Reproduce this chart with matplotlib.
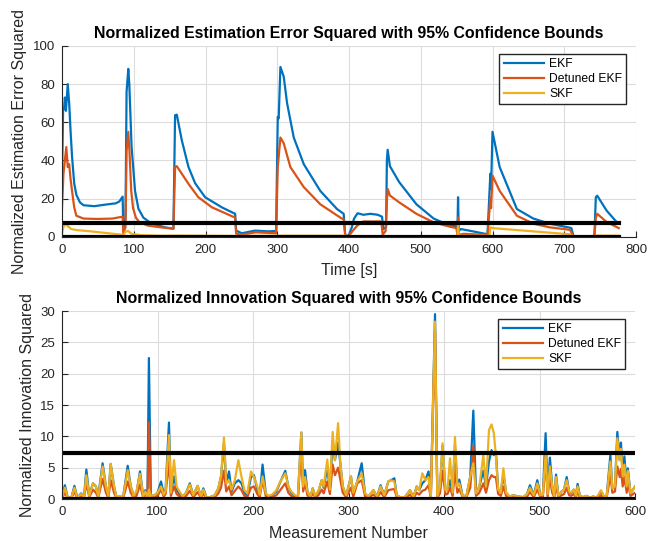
import numpy as np
import matplotlib
matplotlib.use('Agg')
import matplotlib.pyplot as plt

# ---- NEES (top) : key points (time [s], value) ----
nees_ekf_t = [0, 1.5, 3, 4, 5.5, 8, 10, 12, 14, 17, 20, 25, 30, 45, 60, 75, 80, 84.5,
              85.5, 88.5, 90, 92.4, 93.8, 97, 101.8, 106.5, 113.4, 125, 143.7, 155.3,
              157.6, 160, 167, 176.3, 185.6, 199.5, 222.7, 241.3, 242.7, 250.6, 269,
              287.7, 298.4, 300.7, 302, 304.4, 309, 313.7, 323, 337, 360, 383.3, 392.6,
              394.9, 400, 404, 407, 412, 420, 430, 440, 446, 448, 451.7, 452.8, 453.9,
              457, 470, 494, 518, 541, 550, 551, 552, 553, 556, 570, 590, 593, 597,
              598, 600, 610, 634, 657, 680, 708, 710, 713, 742, 744, 746, 759, 773, 776]
nees_ekf = [30, 66, 68, 73, 66, 80, 70, 55, 42, 28, 22, 18, 16.5, 16, 16.8, 17.5, 18.5, 21,
            3, 10, 76, 88, 80, 47, 24, 14.7, 10, 6.8, 4.9, 4.2,
            63.7, 64, 50.5, 36.5, 28, 20.7, 15.4, 12, 3.2, 1.8, 3.2,
            2.8, 3, 62.8, 62, 89, 84, 70, 52, 38, 24, 14.5, 12,
            0, 1, 5, 9.5, 12.3, 11.5, 12, 11.5, 10.5, 4, 5, 40, 45.6,
            37, 28.6, 17, 9.5, 5.8, 5.5, 1, 20.7, 3, 4, 3, 1.5, 1, 33,
            25, 55, 36.5, 14.5, 9.5, 6.8, 4.7, 4.5, 0, 0, 20.7, 21.5, 13.7, 7.7, 7]

nees_det_t = [0, 2, 4, 6, 8, 10, 12, 14, 17, 20, 30, 50, 70, 84.5, 85.5, 88.5, 90, 92.4,
              94, 96.5, 99, 103, 108, 120, 140, 155.3, 157.6, 160, 167, 176.3, 190, 209,
              241.3, 242.7, 250, 270, 298.4, 300.7, 304.4, 309, 318.3, 337, 360, 388,
              392.6, 394.9, 400, 405, 412, 420, 445, 447, 451, 453, 454, 457, 470, 494,
              518, 541, 550, 551, 552, 553, 560, 590, 593, 597, 598, 600, 610, 634, 657,
              680, 708, 713, 742, 744, 746, 759, 776]
nees_det = [15, 33, 40, 47, 36.5, 38, 30, 24, 15.4, 11, 9.5, 9.3, 9.5, 10.5, 1.6, 5, 45, 55,
            45, 24, 15, 10, 7.5, 5.8, 4.8, 4.2, 36.5, 37, 33, 27.7, 20.7, 15.4,
            10, 1.6, 1.0, 2.3, 1.8, 36.5, 52, 49, 36.5, 26, 17, 10,
            9, 0, 0.5, 3, 6, 8, 8, 1, 3, 20, 25, 21.6, 18, 12,
            7.5, 5.2, 4.5, 0.5, 10, 1, 1.5, 1, 0.5, 20, 15, 32, 24, 11, 6.8,
            4.9, 3.6, 0, 0, 10, 12, 7.7, 4.5]

nees_skf_t = [0, 2, 5, 8, 13, 20, 40, 60, 84, 85.5, 88, 92, 97, 110, 140, 160, 240, 300,
              395, 396, 400, 550, 551, 552, 553, 596, 597, 600, 650, 700, 708, 712, 743,
              745, 776]
nees_skf = [2, 5, 7, 5.5, 4, 3.5, 2.8, 2, 1, 0.3, 2.5, 3, 1.5, 0.8, 0.5, 0.6, 0.4, 0.5,
            0.5, 0, 0.3, 0.3, 0, 6, 0.5, 0.5, 5, 4.5, 3, 1.5, 1.3, 0, 0,
            0.6, 0.5]

nees_bounds = [0.0506, 7.3778]

nis_m = [0, 3, 6, 10, 13, 16, 20, 23, 25.5, 28.5, 32.5, 35.5, 38, 42.5, 46, 48.5, 51,
         54.5, 57, 60, 64, 68.8, 72, 75, 78, 81.7, 85, 87.3, 89.5, 91, 93, 97, 100,
         103.7, 106.5, 108.5, 112, 114, 117.3, 120, 123, 126.5, 130, 133.8, 137.5, 142,
         145.5, 148, 151.5, 155, 160, 163.7, 166.5, 169.6, 172, 174.9, 177.5, 181, 184.7,
         188, 191, 194, 197.9, 201, 204.5, 207, 210, 213.5, 216, 220, 224.5, 228, 233.8,
         237, 240, 244, 247, 250.6, 252.5, 254.5, 257, 260, 262.5, 265, 268.5, 272, 274,
         277.8, 280.5, 283.4, 285.8, 289.1, 291.5, 294, 297.5, 300, 302.6, 305, 309.2,
         313.8, 317.4, 320.9, 326, 330, 333.6, 337.5, 341.7, 344.5, 348, 350.5, 354, 359,
         364.4, 368, 371.4, 374, 377.3, 380.5, 383.8, 386.2, 390.6, 393, 395.8, 398.5,
         401.5, 403.7, 406.3, 409, 411.5, 414, 416, 419.5, 423.5, 427.5, 430.7, 433.5,
         437, 441.2, 444, 447.1, 449.8, 452.2, 454.3, 456.7, 459.5, 462.2, 465, 468.5,
         472.6, 477.9, 483.1, 487, 490, 494, 497.7, 501, 503.5, 506.4, 508.5, 510.9,
         513.3, 515.4, 517.3, 519.8, 523.2, 525.7, 528.5, 531, 533, 535.8, 538, 539.9,
         542.3, 545.8, 549.3, 552.8, 556.3, 559.8, 564.4, 567.8, 570.3, 574.2, 576.3, 579,
         581.5, 584, 585.3, 587.1, 588.9, 591.3, 592.5, 595.3, 600]
nis_ekf = [0.2, 2.2, 0.2, 0.3, 2.1, 0.2, 0.9, 0.3, 4.7, 0.6, 2.5, 2.0, 0.5, 5.7, 2.0, 0.5, 5.6,
           2.0, 0.3, 0.4, 0.3, 5.3, 2.0, 0.6, 1.0, 4.4, 0.5, 1.4, 0.3, 22.5, 0.5, 0.6, 1.0,
           2.8, 0.8, 1.5, 12.2, 1.0, 3.6, 1.5, 0.8, 0.4, 1.0, 2.5, 0.6, 2.1,
           0.4, 1.7, 0.2, 0.3, 0.6, 1.7, 3.6, 8.9, 2.5, 4.4, 1.2, 2.5, 3.0,
           2.5, 1.0, 0.6, 3.5, 3.8, 1.5, 0.5, 5.5, 0.8, 0.4, 0.6, 1.2, 2.5, 4.5,
           2.0, 1.0, 0.5, 0.3, 10.6, 2.0, 4.6, 1.2, 0.3, 1.7, 0.5, 1.2, 3.0, 1.8,
           5.0, 1.5, 9.1, 6.2, 9.0, 5.5, 2.0, 0.5, 2.0, 3.6, 0.8, 2.8,
           5.7, 0.8, 0.4, 1.4, 0.4, 2.2, 0.6, 2.8, 3.0, 3.3, 0.6, 0.3, 0.3,
           1.4, 0.3, 2.0, 1.4, 2.5, 3.0, 4.4, 0.4, 29.5, 0.4, 1.8, 8.5,
           1.4, 1.5, 3.0, 0.9, 8.5, 2.0, 3.1, 0.5, 0.5, 3.6, 14.1, 0.9,
           2.0, 4.5, 2.0, 6.0, 7.8, 7.0, 7.6, 1.5, 1.0, 4.0, 1.0, 0.4,
           0.6, 0.4, 0.3, 0.8, 2.2, 0.6, 3.0, 0.6, 0.6, 10.5, 0.8, 6.6,
           2.0, 0.5, 3.9, 0.5, 1.2, 1.5, 3.5, 1.2, 0.9, 1.5, 0.5, 2.4,
           0.5, 0.3, 0.5, 0.2, 0.4, 0.2, 1.2, 0.3, 0.4, 7.0, 1.7, 2.0,
           10.7, 6.2, 9.0, 3.6, 6.8, 2.0, 4.9, 0.9, 2.0]
nis_det = [0.1, 1.0, 0.1, 0.2, 1.2, 0.1, 0.5, 0.2, 2.5, 0.3, 1.5, 1.0, 0.2, 3.2, 1.0, 0.2, 3.0,
           1.0, 0.1, 0.2, 0.1, 2.8, 1.0, 0.2, 0.5, 2.3, 0.2, 0.8, 0.2, 12.2, 0.3, 0.3, 0.5,
           1.5, 0.4, 0.8, 6.0, 0.5, 2.0, 0.8, 0.4, 0.2, 0.5, 1.3, 0.3, 1.1,
           0.2, 0.9, 0.1, 0.1, 0.3, 0.9, 1.8, 4.5, 1.2, 2.0, 0.6, 1.3, 2.0,
           1.4, 0.5, 0.3, 1.8, 2.0, 0.8, 0.3, 3.0, 0.4, 0.2, 0.3, 0.6, 1.3, 2.5,
           1.0, 0.5, 0.3, 0.2, 8.0, 1.2, 2.5, 0.6, 0.2, 0.9, 0.3, 0.6, 1.5, 0.9,
           2.8, 0.8, 5.5, 3.8, 5.0, 3.0, 1.0, 0.3, 1.0, 1.8, 0.4, 2.5,
           3.0, 0.4, 0.2, 0.7, 0.2, 1.1, 0.3, 1.4, 1.5, 1.6, 0.3, 0.1, 0.1,
           0.7, 0.1, 1.0, 0.7, 1.3, 1.5, 2.2, 0.2, 27.0, 0.2, 0.9, 4.5,
           0.7, 0.8, 1.8, 0.5, 4.5, 1.0, 1.6, 0.3, 0.3, 1.8, 8.5, 0.5,
           1.0, 2.5, 1.0, 3.0, 3.8, 3.5, 3.5, 0.8, 0.5, 2.0, 0.5, 0.2,
           0.3, 0.2, 0.1, 0.4, 1.1, 0.3, 1.5, 0.3, 0.3, 6.2, 0.4, 3.5,
           1.0, 0.3, 2.0, 0.3, 0.6, 0.8, 1.8, 0.6, 0.5, 0.8, 0.3, 1.2,
           0.2, 0.1, 0.2, 0.1, 0.2, 0.1, 0.6, 0.1, 0.2, 3.8, 1.0, 1.2,
           5.2, 3.5, 4.8, 2.0, 3.5, 1.0, 2.5, 0.5, 1.0]
nis_skf = [0.2, 1.8, 0.2, 0.3, 1.8, 0.2, 0.8, 0.3, 3.8, 0.5, 2.5, 2.0, 0.4, 5.2, 2.0, 0.5, 5.6,
           2.0, 0.3, 0.5, 0.3, 4.6, 2.0, 0.5, 1.2, 4.0, 0.4, 1.2, 0.3, 1.5, 0.5, 0.6, 1.0,
           2.0, 0.7, 1.3, 10.2, 1.0, 6.2, 2.0, 1.2, 0.4, 1.0, 2.3, 0.6, 2.1,
           0.4, 1.5, 0.2, 0.3, 0.6, 1.7, 3.6, 9.8, 2.5, 3.0, 1.5, 3.0, 6.2,
           3.5, 1.4, 0.9, 4.4, 3.5, 2.0, 0.7, 3.6, 0.9, 0.5, 0.7, 1.4, 2.6, 4.1,
           2.0, 1.2, 0.6, 0.4, 10.6, 2.0, 3.5, 1.2, 0.3, 1.7, 0.5, 1.3, 3.0, 2.0,
           6.3, 1.5, 10.7, 6.2, 12.1, 5.6, 2.0, 0.6, 2.0, 3.6, 1.0, 2.8,
           4.1, 0.9, 0.4, 1.4, 0.4, 2.0, 0.6, 2.8, 3.0, 2.8, 0.6, 0.3, 0.3,
           1.4, 0.3, 2.0, 1.4, 4.1, 3.0, 3.5, 0.4, 28.3, 0.4, 2.0, 8.9,
           1.4, 1.5, 6.5, 1.0, 9.9, 2.0, 2.5, 0.5, 0.5, 3.6, 5.7, 0.9,
           2.0, 7.0, 2.0, 11.0, 11.9, 10.5, 7.0, 1.5, 1.0, 4.9, 1.0, 0.4,
           0.6, 0.4, 0.3, 0.8, 1.8, 0.6, 2.5, 0.6, 0.7, 7.3, 0.8, 5.2,
           2.0, 0.5, 3.5, 0.5, 1.2, 1.5, 3.0, 1.2, 1.0, 1.5, 0.5, 2.0,
           0.5, 0.3, 0.5, 0.2, 0.4, 0.2, 1.4, 0.3, 0.4, 6.0, 1.7, 2.0,
           9.7, 6.2, 8.0, 3.6, 5.5, 2.0, 4.5, 0.9, 2.0]

nis_bounds = [0.0506, 7.3778]

labels = ['EKF', 'Detuned EKF', 'SKF']
colors = ['#0072BD', '#D95319', '#EDB120']

plt.rcParams['font.family'] = ['Liberation Sans', 'DejaVu Sans']
plt.rcParams['axes.linewidth'] = 0.8

fig = plt.figure(figsize=(6.57, 5.41), dpi=100)
ax1 = fig.add_axes([62 / 657, 1 - 236.7 / 541, 574 / 657, 190.7 / 541])
ax2 = fig.add_axes([62 / 657, 1 - 499 / 541, 573 / 657, 188 / 541])


def style_axes(ax):
    ax.grid(True, color='#dcdcdc', linewidth=0.8)
    ax.set_axisbelow(True)
    for side in ['top', 'right']:
        ax.spines[side].set_visible(False)
    for side in ['left', 'bottom']:
        ax.spines[side].set_color('#262626')
    ax.tick_params(direction='in', length=4, width=0.8, colors='#262626',
                   labelsize=9.5, pad=5)


def add_legend(ax):
    ax.legend(loc='upper right', bbox_to_anchor=(0.983, 0.96), fontsize=8.7,
              fancybox=False, edgecolor='#262626', framealpha=1, handlelength=3.3,
              borderpad=0.35, labelspacing=0.25, handletextpad=0.45,
              borderaxespad=0.0)


# top panel: NEES
ax1.plot(nees_ekf_t, nees_ekf, color=colors[0], lw=1.6, label=labels[0])
ax1.plot(nees_det_t, nees_det, color=colors[1], lw=1.6, label=labels[1])
ax1.plot(nees_skf_t, nees_skf, color=colors[2], lw=1.6, label=labels[2])
for b in nees_bounds:
    ax1.plot([0, 776], [b, b], color='black', lw=3)
ax1.set_xlim(0, 800)
ax1.set_ylim(0, 100)
ax1.set_xticks(np.arange(0, 801, 100))
ax1.set_yticks(np.arange(0, 101, 20))
style_axes(ax1)
ax1.set_title('Normalized Estimation Error Squared with 95% Confidence Bounds',
              fontsize=11.4, fontweight='bold', pad=6)
ax1.set_xlabel('Time [s]', fontsize=11.5, color='#262626', labelpad=5)
ax1.set_ylabel('Normalized Estimation Error Squared', fontsize=11.5, color='#262626')
add_legend(ax1)

# bottom panel: NIS
ax2.plot(nis_m, nis_ekf, color=colors[0], lw=1.6, label=labels[0])
ax2.plot(nis_m, nis_det, color=colors[1], lw=1.6, label=labels[1])
ax2.plot(nis_m, nis_skf, color=colors[2], lw=1.6, label=labels[2])
for b in nis_bounds:
    ax2.plot([0, 600], [b, b], color='black', lw=3)
ax2.set_xlim(0, 600)
ax2.set_ylim(0, 30)
ax2.set_xticks(np.arange(0, 601, 100))
ax2.set_yticks(np.arange(0, 31, 5))
style_axes(ax2)
ax2.set_title('Normalized Innovation Squared with 95% Confidence Bounds',
              fontsize=11.4, fontweight='bold', pad=6)
ax2.set_xlabel('Measurement Number', fontsize=11.5, color='#262626', labelpad=6)
ax2.set_ylabel('Normalized Innovation Squared', fontsize=11.5, color='#262626')
add_legend(ax2)

fig.savefig('out.png', dpi=100)
